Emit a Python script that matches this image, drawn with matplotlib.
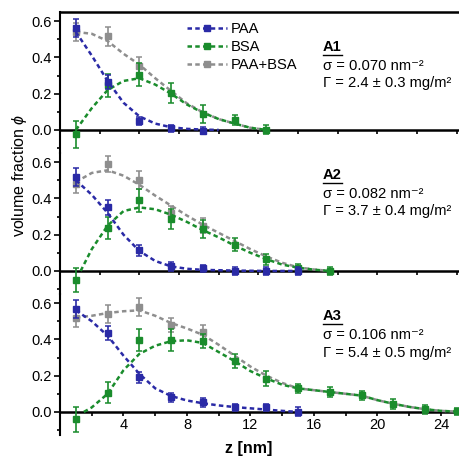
import numpy as np
import matplotlib
matplotlib.use("Agg")
import matplotlib.pyplot as plt
from matplotlib.lines import Line2D
from matplotlib.ticker import MultipleLocator

plt.rcParams['font.family'] = ['Liberation Sans', 'DejaVu Sans']
plt.rcParams['mathtext.fontset'] = 'custom'
plt.rcParams['mathtext.rm'] = 'Liberation Sans'
plt.rcParams['mathtext.it'] = 'Liberation Sans:italic'
plt.rcParams['mathtext.bf'] = 'Liberation Sans:bold'

# ---------------- data ----------------
series_names = ["PAA", "BSA", "PAA+BSA"]
panel_titles = ["A1", "A2", "A3"]
sigma_texts = ["0.070", "0.082", "0.106"]
gamma_texts = ["2.4 \u00b1 0.3", "3.7 \u00b1 0.4", "5.4 \u00b1 0.5"]

# Panel A1 measured points
a1_paa_z = [1, 3, 5, 7, 9]
a1_paa_y = [0.56, 0.265, 0.048, 0.010, -0.004]
a1_paa_e = [0.05, 0.04, 0.022, 0.02, 0.02]
a1_bsa_z = [1, 3, 5, 7, 9, 11, 13]
a1_bsa_y = [-0.025, 0.245, 0.305, 0.205, 0.09, 0.055, 0.0]
a1_bsa_e = [0.072, 0.062, 0.062, 0.055, 0.05, 0.03, 0.025]
a1_sum_z = [1, 3, 5]
a1_sum_y = [0.54, 0.517, 0.35]
a1_sum_e = [0.05, 0.052, 0.05]
# Panel A1 model curves
a1_fit_paa_z = [1, 2, 3, 4, 5, 6, 7, 8, 9, 10]
a1_fit_paa_y = [0.54, 0.41, 0.27, 0.15, 0.075, 0.035, 0.015, 0.006, 0.002, 0.0]
a1_fit_bsa_z = [1, 2, 3, 4, 5, 6, 7, 8, 9, 10, 11, 12, 13]
a1_fit_bsa_y = [0.0, 0.12, 0.22, 0.27, 0.285, 0.25, 0.20, 0.14, 0.095, 0.06, 0.035, 0.012, 0.0]
a1_fit_sum_z = [1, 2, 3, 4, 5, 6, 7, 8, 9, 10, 11, 12, 13]
a1_fit_sum_y = [0.54, 0.53, 0.49, 0.42, 0.36, 0.285, 0.215, 0.146, 0.097, 0.06, 0.035, 0.012, 0.0]

# Panel A2 measured points
a2_paa_z = [1, 3, 5, 7, 9, 11, 13, 15]
a2_paa_y = [0.517, 0.35, 0.114, 0.027, 0.015, 0.0, 0.0, 0.0]
a2_paa_e = [0.05, 0.04, 0.03, 0.025, 0.02, 0.02, 0.02, 0.02]
a2_bsa_z = [1, 3, 5, 7, 9, 11, 13, 15, 17]
a2_bsa_y = [-0.05, 0.235, 0.39, 0.285, 0.23, 0.145, 0.064, 0.018, 0.0]
a2_bsa_e = [0.065, 0.06, 0.064, 0.055, 0.05, 0.035, 0.03, 0.02, 0.02]
a2_sum_z = [1, 3, 5, 7, 9]
a2_sum_y = [0.477, 0.59, 0.50, 0.32, 0.25]
a2_sum_e = [0.05, 0.045, 0.05, 0.04, 0.04]
# Panel A2 model curves
a2_fit_paa_z = [1, 2, 3, 4, 5, 6, 7, 8, 9, 10, 11, 12, 13, 14, 15]
a2_fit_paa_y = [0.50, 0.42, 0.32, 0.20, 0.11, 0.055, 0.025, 0.012, 0.006, 0.004, 0.002, 0.001, 0.0, 0.0, 0.0]
a2_fit_bsa_z = [1.3, 2, 3, 4, 5, 6, 7, 8, 9, 10, 11, 12, 13, 14, 15, 16, 17]
a2_fit_bsa_y = [0.0, 0.12, 0.25, 0.33, 0.35, 0.34, 0.31, 0.27, 0.225, 0.185, 0.14, 0.10, 0.065, 0.035, 0.018, 0.007, 0.0]
a2_fit_sum_z = [1, 2, 3, 4, 5, 6, 7, 8, 9, 10, 11, 12, 13, 14, 15, 16, 17]
a2_fit_sum_y = [0.49, 0.54, 0.555, 0.525, 0.475, 0.415, 0.36, 0.305, 0.255, 0.21, 0.165, 0.12, 0.08, 0.045, 0.02, 0.008, 0.0]

# Panel A3 measured points
a3_paa_z = [1, 3, 5, 7, 9, 11, 13, 15]
a3_paa_y = [0.566, 0.435, 0.19, 0.08, 0.053, 0.025, 0.025, 0.0]
a3_paa_e = [0.05, 0.04, 0.03, 0.025, 0.025, 0.02, 0.02, 0.025]
a3_bsa_z = [1, 3, 5, 7, 9, 11, 13, 15, 17, 19, 21, 23, 25]
a3_bsa_y = [-0.04, 0.107, 0.395, 0.395, 0.39, 0.28, 0.184, 0.13, 0.11, 0.093, 0.044, 0.016, 0.004]
a3_bsa_e = [0.07, 0.06, 0.06, 0.06, 0.04, 0.04, 0.04, 0.025, 0.025, 0.025, 0.025, 0.025, 0.02]
a3_sum_z = [1, 3, 5, 7, 9]
a3_sum_y = [0.517, 0.54, 0.58, 0.48, 0.438]
a3_sum_e = [0.05, 0.05, 0.05, 0.04, 0.04]
# Panel A3 model curves
a3_fit_paa_z = [1, 2, 3, 4, 5, 6, 7, 8, 9, 10, 11, 12, 13, 14, 15]
a3_fit_paa_y = [0.56, 0.50, 0.42, 0.31, 0.21, 0.13, 0.088, 0.063, 0.048, 0.036, 0.027, 0.02, 0.013, 0.006, 0.0]
a3_fit_bsa_z = [1.5, 2, 3, 4, 5, 6, 7, 8, 9, 10, 11, 12, 13, 14, 15, 16, 17, 18, 19, 20, 21, 22, 23, 24, 25]
a3_fit_bsa_y = [0.0, 0.025, 0.10, 0.23, 0.32, 0.365, 0.39, 0.395, 0.38, 0.33, 0.28, 0.225, 0.185, 0.15, 0.13,
                0.12, 0.11, 0.10, 0.09, 0.065, 0.045, 0.028, 0.015, 0.006, 0.002]
a3_fit_sum_z = [1, 2, 3, 4, 5, 6, 7, 8, 9, 10, 11, 12, 13, 14, 15, 16, 17, 18, 19, 20, 21, 22, 23, 24, 25]
a3_fit_sum_y = [0.52, 0.53, 0.545, 0.555, 0.56, 0.53, 0.49, 0.46, 0.425, 0.37, 0.31, 0.25, 0.20, 0.16, 0.13,
                0.12, 0.11, 0.10, 0.09, 0.065, 0.045, 0.028, 0.015, 0.006, 0.002]

panels = [
    dict(pts=[(a1_paa_z, a1_paa_y, a1_paa_e), (a1_bsa_z, a1_bsa_y, a1_bsa_e), (a1_sum_z, a1_sum_y, a1_sum_e)],
         fits=[(a1_fit_paa_z, a1_fit_paa_y), (a1_fit_bsa_z, a1_fit_bsa_y), (a1_fit_sum_z, a1_fit_sum_y)]),
    dict(pts=[(a2_paa_z, a2_paa_y, a2_paa_e), (a2_bsa_z, a2_bsa_y, a2_bsa_e), (a2_sum_z, a2_sum_y, a2_sum_e)],
         fits=[(a2_fit_paa_z, a2_fit_paa_y), (a2_fit_bsa_z, a2_fit_bsa_y), (a2_fit_sum_z, a2_fit_sum_y)]),
    dict(pts=[(a3_paa_z, a3_paa_y, a3_paa_e), (a3_bsa_z, a3_bsa_y, a3_bsa_e), (a3_sum_z, a3_sum_y, a3_sum_e)],
         fits=[(a3_fit_paa_z, a3_fit_paa_y), (a3_fit_bsa_z, a3_fit_bsa_y), (a3_fit_sum_z, a3_fit_sum_y)]),
]

colors = ['#2a2aa6', '#1a8c2c', '#8e8e8e']
zorders = [5, 4, 3]
dash = (0, (1.8, 1.3))

W, H = 460, 458
fig = plt.figure(figsize=(W / 100, H / 100), dpi=100)

left_px, right_px = 60, 460
tops = [12, 153, 294]
ph = 141
axes = []
for i, top in enumerate(tops):
    ax = fig.add_axes([left_px / W, 1 - (top + ph) / H, (right_px - left_px) / W, ph / H])
    axes.append(ax)
    p = panels[i]
    for k in [2, 1, 0]:
        fz, fy = p['fits'][k]
        ax.plot(fz, fy, linestyle=dash, color=colors[k], lw=1.8, zorder=zorders[k], clip_on=False)
        z, y, e = p['pts'][k]
        ax.errorbar(z, y, yerr=e, fmt='s', color=colors[k], ms=3.8, elinewidth=1.2, capsize=2.0,
                    capthick=1.1, zorder=zorders[k] + 0.5, clip_on=False)
    ax.set_xlim(0, 25.2)
    ax.set_ylim(-0.127, 0.65)
    ax.spines['right'].set_visible(False)
    ax.spines['top'].set_visible(i == 0)
    ax.spines['top'].set_linewidth(1.8)
    ax.spines['left'].set_linewidth(1.5)
    ax.spines['bottom'].set_position(('data', 0))
    ax.spines['bottom'].set_linewidth(1.8)
    ax.spines['bottom'].set_zorder(2)
    ax.set_yticks([0.0, 0.2, 0.4, 0.6])
    ax.set_yticklabels(['0.0', '0.2', '0.4', '0.6'])
    ax.yaxis.set_minor_locator(MultipleLocator(0.1))
    ax.tick_params(axis='y', which='major', direction='out', length=4.5, width=1.2, labelsize=10.5, pad=1.5)
    ax.tick_params(axis='y', which='minor', direction='out', length=2.5, width=1.2)
    ax.patch.set_alpha(0)
    if i < 2:
        ax.xaxis.set_major_locator(MultipleLocator(2.5))
        ax.tick_params(axis='x', which='major', direction='out', length=3, width=1.2, labelbottom=False)
    else:
        ax.xaxis.set_minor_locator(MultipleLocator(2))
        ax.set_xticks([4, 8, 12, 16, 20, 24])
        ax.set_xticklabels(['4', '8', '12', '16', '20', '24'])
        ax.tick_params(axis='x', which='major', direction='out', length=3, width=1.2, labelsize=10.5, pad=1)
        ax.tick_params(axis='x', which='minor', direction='out', length=3, width=1.2)

# legend
handles = [Line2D([0], [0], linestyle=dash, color=colors[k], lw=1.8, marker='s', ms=3.8) for k in range(3)]
axes[0].legend(handles, series_names, loc='upper left', bbox_to_anchor=((187 - left_px) / 400, 1 - (22 - 12) / ph),
               frameon=False, fontsize=10.6, handlelength=2.75, handletextpad=0.25, labelspacing=0.28,
               borderaxespad=0, borderpad=0, numpoints=1)

# annotations
title_y = [47, 175, 316]
text_x = 323
fig.canvas.draw()
renderer = fig.canvas.get_renderer()
for i in range(3):
    yc = title_y[i]
    t = fig.text(text_x / W, 1 - yc / H, panel_titles[i], fontsize=10.6, fontweight='bold', va='center', ha='left')
    fig.text(text_x / W, 1 - (yc + 19) / H, "\u03c3 = " + sigma_texts[i] + " nm\u207b\u00b2", fontsize=10.6,
             va='center', ha='left')
    fig.text(text_x / W, 1 - (yc + 36.5) / H, "\u0393 = " + gamma_texts[i] + " mg/m\u00b2", fontsize=10.6,
             va='center', ha='left')
    bb = t.get_window_extent(renderer)
    uy = (bb.y0 - 0.5) / H
    fig.add_artist(Line2D([bb.x0 / W, bb.x1 / W], [uy, uy], color='black', lw=1.0))

fig.text(20 / W, 1 - 175 / H, r"volume fraction $\phi$", rotation=90, fontsize=11.5, va='center', ha='center')
fig.text(249 / W, 1 - 449 / H, "z [nm]", fontsize=11.5, fontweight='bold', va='center', ha='center')

fig.savefig("out.png", dpi=100)
